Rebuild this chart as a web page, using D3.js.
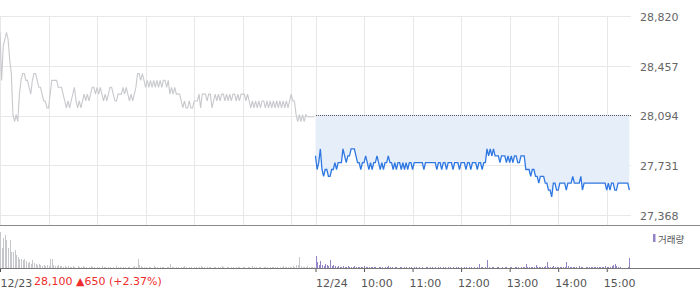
<!DOCTYPE html>
<html>
<head>
<meta charset="utf-8">
<script src="https://cdn.jsdelivr.net/npm/d3@7"></script>
<style>
  html,body{margin:0;padding:0;background:#fff;}
  svg{display:block;}
</style>
</head>
<body>
<svg id="chart" width="700" height="289"></svg>
<script>
// ---- data (one sample every 2 minutes, 09:00-15:28) ----
const intervalMin = 2;
const day1Price = [
28700,28350,28600,28650,28700,28650,28500,28400,28100,28050,
28100,28050,28250,28350,28400,28400,28350,28350,28300,28250,
28350,28400,28400,28350,28300,28300,28250,28200,28200,28150,
28150,28250,28350,28350,28350,28350,28300,28300,28300,28250,
28200,28150,28200,28150,28200,28250,28300,28200,28150,28200,
28150,28200,28250,28200,28250,28200,28250,28300,28300,28250,
28300,28250,28300,28250,28200,28250,28200,28250,28300,28300,
28250,28200,28200,28250,28250,28250,28300,28250,28300,28250,
28200,28250,28200,28250,28300,28400,28400,28350,28400,28350,
28300,28350,28300,28350,28300,28350,28300,28350,28300,28350,
28300,28350,28350,28300,28350,28250,28300,28250,28300,28250,
28250,28250,28200,28150,28200,28150,28150,28200,28150,28150,
28200,28200,28200,28250,28150,28250,28250,28250,28200,28250,
28250,28150,28200,28250,28200,28250,28200,28250,28250,28200,
28250,28200,28250,28200,28250,28250,28200,28250,28200,28250,
28250,28250,28200,28250,28200,28150,28200,28150,28200,28150,
28200,28150,28200,28200,28150,28200,28150,28200,28150,28200,
28150,28200,28150,28200,28150,28200,28150,28200,28150,28200,
28250,28200,28200,28100,28050,28100,28050,28100,28050,28100,
28085,28085,28085,28085,28085
];
const day2Price = [
27800,27700,27750,27850,27700,27650,27700,27700,27650,27650,
27700,27700,27750,27700,27750,27750,27750,27850,27800,27750,
27800,27800,27850,27850,27850,27800,27750,27750,27700,27750,
27750,27800,27750,27700,27750,27700,27750,27750,27800,27750,
27700,27750,27700,27750,27750,27800,27750,27750,27700,27750,
27700,27750,27750,27700,27750,27700,27750,27700,27750,27750,
27700,27750,27750,27750,27750,27750,27750,27700,27750,27750,
27750,27750,27750,27750,27750,27700,27750,27750,27700,27750,
27750,27700,27750,27750,27750,27700,27750,27750,27750,27700,
27750,27750,27750,27700,27750,27750,27700,27750,27750,27750,
27700,27750,27750,27700,27750,27750,27850,27800,27850,27800,
27850,27800,27800,27800,27750,27800,27800,27800,27750,27800,
27750,27800,27750,27800,27800,27750,27750,27800,27800,27800,
27700,27700,27700,27650,27700,27700,27650,27650,27600,27650,
27650,27650,27600,27600,27550,27550,27500,27600,27600,27550,
27550,27600,27600,27600,27600,27550,27600,27600,27600,27650,
27600,27600,27600,27600,27650,27550,27600,27600,27600,27600,
27600,27600,27600,27600,27600,27600,27600,27600,27600,27600,
27550,27600,27550,27600,27600,27550,27550,27600,27600,27600,
27600,27600,27600,27600,27550
];
const day1Volume = [
36,20,30,33,28,20,28,16,16,18,
13,11,9,9,8,9,7,5,6,4,
8,5,4,3,4,3,2,3,2,3,
2,9,9,3,2,2,3,2,2,1,
2,1,2,1,1,2,1,0,2,1,
1,2,1,1,0,1,2,1,1,0,
1,1,0,2,1,1,0,1,1,0,
1,0,2,1,1,0,1,1,0,1,
1,0,1,2,1,9,3,2,1,1,
1,0,1,1,0,2,1,1,0,1,
1,1,0,1,1,4,1,1,0,1,
1,0,1,1,2,1,0,1,1,0,
1,1,0,1,2,1,1,0,1,1,
1,0,1,1,0,1,1,2,1,0,
1,1,0,1,1,0,1,1,1,0,
1,1,0,1,1,0,2,1,1,0,
1,1,0,1,1,1,0,1,1,1,
1,1,0,1,1,2,1,1,1,1,
1,2,1,3,3,11,2,1,1,1,
2,1,1,1,1
];
const day2Volume = [
12,6,3,7,3,2,4,3,2,8,
2,3,2,1,2,1,1,2,1,1,
2,1,1,1,2,1,1,1,1,1,
2,1,1,1,1,1,1,1,0,1,
1,1,0,1,1,2,1,1,0,1,
1,0,1,1,0,1,1,0,1,1,
0,1,1,0,1,0,1,0,1,1,
0,1,1,0,1,0,1,1,0,1,
1,0,1,1,0,1,0,1,1,0,
1,0,1,1,0,1,1,0,1,0,
1,4,1,1,0,1,8,1,0,1,
1,0,1,1,0,1,0,1,1,0,
1,1,0,1,1,1,0,1,1,1,
4,1,1,1,1,1,3,1,1,1,
1,1,2,6,1,1,1,2,1,1,
1,1,1,1,1,6,2,1,1,1,
1,1,0,2,1,1,0,1,1,1,
1,1,1,1,1,1,1,1,1,2,
1,1,1,2,3,4,2,1,1,0,
0,0,0,1,10
];
const prevClose = 28100;
const yTicks = [27368, 27731, 28094, 28457, 28820];
const xTickMinutes = [0, 390, 450, 510, 570, 630, 690, 750];
const xTickLabels = ["12/23", "12/24", "10:00", "11:00", "12:00", "13:00", "14:00", "15:00"];
const gridMinutes = [0, 60, 120, 180, 240, 300, 360, 390, 450, 510, 570, 630, 690, 750];
const headline = "28,100 \u25B2650 (+2.37%)";
const legendLabel = "거래량";

// ---- build ----
const svg = d3.select("#chart");
const plotRight = 631;
const x = d3.scaleLinear().domain([0, 780]).range([0, plotRight]);
const y = d3.scaleLinear().domain([27368, 28820]).range([215, 16]);
const yv = d3.scaleLinear().domain([0, 40]).range([268, 228]);

const d1 = day1Price.map((p, i) => ({t: i * intervalMin, p}));
const d2 = day2Price.map((p, i) => ({t: 390 + i * intervalMin, p}));
const v1 = day1Volume.map((v, i) => ({t: i * intervalMin, v}));
const v2 = day2Volume.map((v, i) => ({t: 390 + i * intervalMin, v}));

const font = "'DejaVu Sans', Verdana, sans-serif";
const crisp = v => Math.round(v) + 0.5;

// grid
const grid = svg.append("g").attr("shape-rendering", "crispEdges");
grid.selectAll("line.h").data(yTicks).join("line")
  .attr("x1", 0).attr("x2", plotRight)
  .attr("y1", d => crisp(y(d))).attr("y2", d => crisp(y(d)))
  .attr("stroke", "#e8e8e8");
grid.selectAll("line.v").data(gridMinutes).join("line")
  .attr("x1", d => crisp(x(d))).attr("x2", d => crisp(x(d)))
  .attr("y1", y(28820)).attr("y2", 225)
  .attr("stroke", "#e8e8e8");

// fill between prev close and day-2 price
svg.append("path").datum(d2)
  .attr("d", d3.area().x(d => x(d.t)).y0(y(prevClose)).y1(d => y(d.p)).curve(d3.curveLinear))
  .attr("fill", "#e6eefa");

// dotted previous close line
svg.append("line")
  .attr("x1", x(390)).attr("x2", plotRight)
  .attr("y1", crisp(y(prevClose))).attr("y2", crisp(y(prevClose)))
  .attr("stroke", "#555").attr("stroke-dasharray", "1,1")
  .attr("shape-rendering", "crispEdges");

const line = d3.line().x(d => x(d.t)).y(d => y(d.p));
svg.append("path").datum(d1).attr("d", line)
  .attr("fill", "none").attr("stroke", "#c8c9cd").attr("stroke-width", 1.1);
svg.append("path").datum(d2).attr("d", line)
  .attr("fill", "none").attr("stroke", "#2f78e2").attr("stroke-width", 1.3);

// panel separator line
svg.append("line").attr("x1", 0).attr("x2", 700).attr("y1", 225.5).attr("y2", 225.5)
  .attr("stroke", "#8a8a8a").attr("shape-rendering", "crispEdges");

// volume bars
const vb = svg.append("g").attr("shape-rendering", "crispEdges");
vb.selectAll("rect.a").data(v1.filter(d => d.v > 0)).join("rect")
  .attr("x", d => Math.round(x(d.t))).attr("width", 1)
  .attr("y", d => yv(d.v)).attr("height", d => yv(0) - yv(d.v))
  .attr("fill", "#c6c7cb");
vb.selectAll("rect.b").data(v2.filter(d => d.v > 0)).join("rect")
  .attr("x", d => Math.round(x(d.t))).attr("width", 1)
  .attr("y", d => yv(d.v)).attr("height", d => yv(0) - yv(d.v))
  .attr("fill", "#9583c9");

// right axis
const yAxis = d3.axisRight(y).tickValues(yTicks).tickFormat(d3.format(",")).tickSize(0).tickPadding(9);
const gy = svg.append("g").attr("transform", `translate(${plotRight},0)`).call(yAxis);
gy.select(".domain").remove();
gy.selectAll("text").attr("font-family", font).attr("font-size", 11).attr("fill", "#666").attr("dy", "0.4em");

// bottom axis
const xAxis = d3.axisBottom(x).tickValues(xTickMinutes)
  .tickFormat((d, i) => xTickLabels[i]).tickSize(4).tickPadding(6);
const gx = svg.append("g").attr("transform", "translate(0,268)").call(xAxis);
gx.select(".domain").remove();
gx.selectAll(".tick line").attr("stroke", "#555");
gx.selectAll(".tick text")
  .attr("font-family", font).attr("font-size", 11).attr("fill", "#555")
  .attr("text-anchor", "start")
  .attr("x", (d, i) => xTickLabels[i].includes("/") ? 0 : -3.5)
  .attr("dy", "0.85em");
svg.append("line").attr("x1", 0).attr("x2", 700).attr("y1", 268.5).attr("y2", 268.5)
  .attr("stroke", "#777").attr("shape-rendering", "crispEdges");

// headline in red after the first date label
svg.append("text").attr("x", 34).attr("y", 285)
  .attr("font-family", font).attr("font-size", 11).attr("fill", "#f02b2b")
  .text(headline);

// legend
svg.append("rect").attr("x", 653).attr("y", 234).attr("width", 2.5).attr("height", 8).attr("fill", "#9583c9");
svg.append("text").attr("x", 658).attr("y", 242.5)
  .attr("font-family", "'Noto Sans CJK KR', sans-serif").attr("font-size", 9.5).attr("fill", "#555")
  .text(legendLabel);
</script>
</body>
</html>
